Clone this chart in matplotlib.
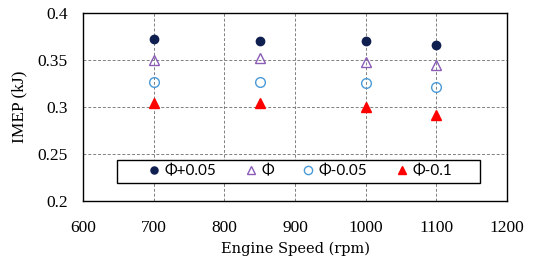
import matplotlib
matplotlib.use("Agg")
import matplotlib.pyplot as plt
from matplotlib.patches import Rectangle

speeds = [700, 850, 1000, 1100]
phi_p005 = [0.372, 0.3705, 0.370, 0.3665]
phi = [0.350, 0.352, 0.348, 0.345]
phi_m005 = [0.327, 0.327, 0.326, 0.321]
phi_m01 = [0.304, 0.304, 0.300, 0.292]
labels = ["Φ+0.05", "Φ", "Φ-0.05", "Φ-0.1"]

fig = plt.figure(figsize=(5.35, 2.62), dpi=100)
ax = fig.add_axes([0.155, 0.233, 0.793, 0.717])

ms = 6
ax.plot(speeds, phi_p005, 'o', color='#0f1f50', ms=ms, label=labels[0], linestyle='none')
ax.plot(speeds, phi, '^', mfc='none', mec='#8a5cb8', mew=1.0, ms=ms+1, label=labels[1], linestyle='none')
ax.plot(speeds, phi_m005, 'o', mfc='none', mec='#4a9ad8', mew=1.0, ms=ms+1, label=labels[2], linestyle='none')
ax.plot(speeds, phi_m01, '^', color='#ff0000', ms=ms+1, label=labels[3], linestyle='none')

ax.set_xlim(600, 1200)
ax.set_ylim(0.2, 0.4)
ax.set_xticks([600, 700, 800, 900, 1000, 1100, 1200])
ax.set_yticks([0.2, 0.25, 0.3, 0.35, 0.4])
ax.set_yticklabels(["0.2", "0.25", "0.3", "0.35", "0.4"])
ax.grid(True, linestyle=(0, (3, 2)), color='#808080', linewidth=0.7)
ax.set_axisbelow(True)
ax.tick_params(length=0, labelsize=12.5)
ax.tick_params(axis='x', pad=14)
ax.tick_params(axis='y', pad=11)
for lab in ax.get_xticklabels() + ax.get_yticklabels():
    lab.set_fontfamily('Liberation Serif')
for s in ax.spines.values():
    s.set_linewidth(1.0)

ax.set_xlabel("Engine Speed (rpm)", fontfamily='DejaVu Serif', fontsize=10.5, labelpad=4)
ax.set_ylabel("IMEP (kJ)", fontfamily='Liberation Serif', fontsize=12.5, labelpad=7)

box = Rectangle((0.08, 0.096), 0.856, 0.122, transform=ax.transAxes,
                facecolor='white', edgecolor='black', linewidth=1.0, zorder=4)
ax.add_patch(box)

leg = ax.legend(loc='center', bbox_to_anchor=(0.51, 0.157),
                ncol=4, frameon=False, markerscale=0.85,
                prop={'family': 'Lato', 'size': 11}, handletextpad=0.2, borderpad=0.0,
                handlelength=1.0, borderaxespad=0, columnspacing=1.75)
leg.set_zorder(5)

fig.savefig("out.png", dpi=100)
